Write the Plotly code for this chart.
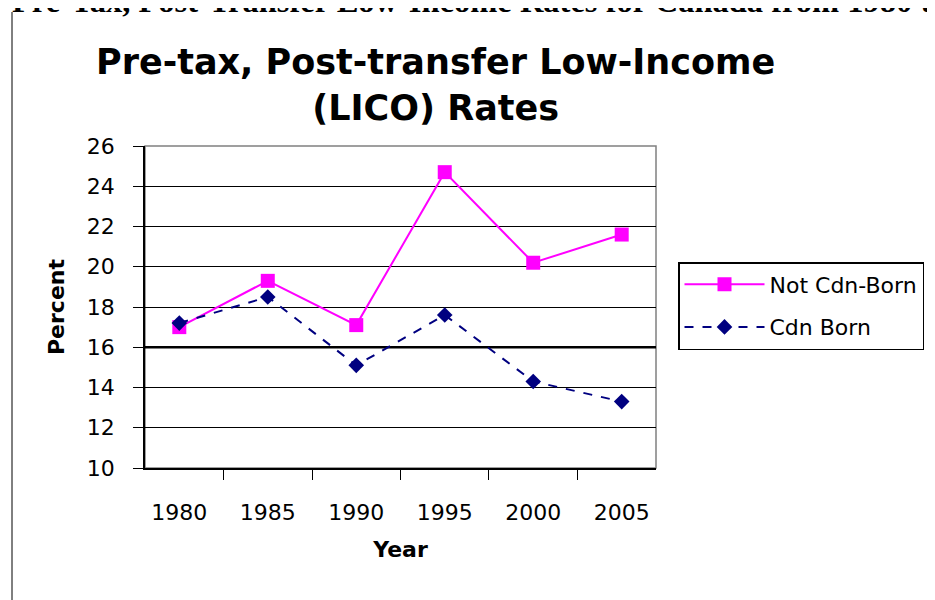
import plotly.graph_objects as go

years = ["1980", "1985", "1990", "1995", "2000", "2005"]
not_cdn_born = [17.0, 19.3, 17.1, 24.7, 20.2, 21.6]
cdn_born = [17.2, 18.5, 15.1, 17.6, 14.3, 13.3]
y_ticks = [10, 12, 14, 16, 18, 20, 22, 24, 26]

W, H = 935, 600
OFF = 8  # page body margin offset
L, R, T, B = 145 - OFF, 656 - OFF, 146 - OFF, 468 - OFF
SANS = "DejaVu Sans, Arial, sans-serif"

fig = go.Figure()
fig.add_trace(go.Scatter(
    x=years, y=not_cdn_born, name="Not Cdn-Born", mode="lines+markers",
    legendgroup="a",
    line=dict(color="#FF00FF", width=2),
    marker=dict(symbol="square", size=14, color="#FF00FF"),
))
fig.add_trace(go.Scatter(
    x=years, y=cdn_born, name="Cdn Born", mode="lines+markers",
    legendgroup="b",
    line=dict(color="#000080", width=2, dash="dash"),
    marker=dict(symbol="diamond", size=12, color="#000080"),
))

fig.update_layout(
    width=W, height=H,
    margin=dict(l=0, r=0, t=0, b=0, autoexpand=False),
    paper_bgcolor="white", plot_bgcolor="white",
    font=dict(family=SANS, color="black", size=22),
    showlegend=True,
    legend=dict(
        x=(678 - OFF) / W, y=1 - (262 - OFF) / H, xanchor="left", yanchor="top",
        bordercolor="black", borderwidth=1.5, bgcolor="white",
        font=dict(size=22), tracegroupgap=11, entrywidth=300, itemwidth=80,
    ),
    xaxis=dict(
        domain=[L / W, R / W], type="category", automargin=False,
        tickson="boundaries", ticks="outside", ticklen=10, tickcolor="black",
        showline=True, linecolor="black", linewidth=1.5,
        showgrid=False, ticklabelstandoff=24,
        title=dict(text="<b>Year</b>", font=dict(size=22), standoff=17),
    ),
    yaxis=dict(
        domain=[1 - B / H, 1 - T / H], range=[10, 26], automargin=False,
        tickvals=y_ticks, ticks="outside", ticklen=10, tickcolor="black",
        showline=True, linecolor="black", linewidth=1.5,
        showgrid=True, gridcolor="black", gridwidth=1,
        zeroline=False, ticklabelstandoff=14,
        title=dict(text="<b>Percent</b>", font=dict(size=22), standoff=16),
    ),
    shapes=[
        dict(type="rect", xref="x domain", yref="y domain", x0=0, x1=1, y0=0, y1=1,
             line=dict(color="#808080", width=1.5), layer="below"),
        dict(type="line", xref="x domain", yref="y", x0=0, x1=1, y0=16, y1=16,
             line=dict(color="black", width=2.5), layer="below"),
        dict(type="line", xref="paper", yref="paper", x0=(12 - OFF) / W, x1=(12 - OFF) / W,
             y0=0, y1=1 - (12 - OFF) / H, line=dict(color="black", width=1)),
    ],
    annotations=[
        dict(text="<b>Pre-tax, Post-transfer Low-Income<br>(LICO) Rates</b>",
             xref="paper", yref="paper", x=(435 - OFF) / W, y=1 - (85 - OFF) / H,
             xanchor="center", yanchor="middle", showarrow=False,
             font=dict(size=35, family=SANS)),
        dict(text="<b>Pre-Tax, Post-Transfer Low-Income Rates for Canada from 1980 to 2005</b>",
             xref="paper", yref="paper", x=2 / W, y=1 - 13 / H,
             xanchor="left", yanchor="bottom", showarrow=False,
             font=dict(size=32.5, family="Liberation Serif, Times New Roman, serif")),
    ],
)

fig.write_html("out.html")
